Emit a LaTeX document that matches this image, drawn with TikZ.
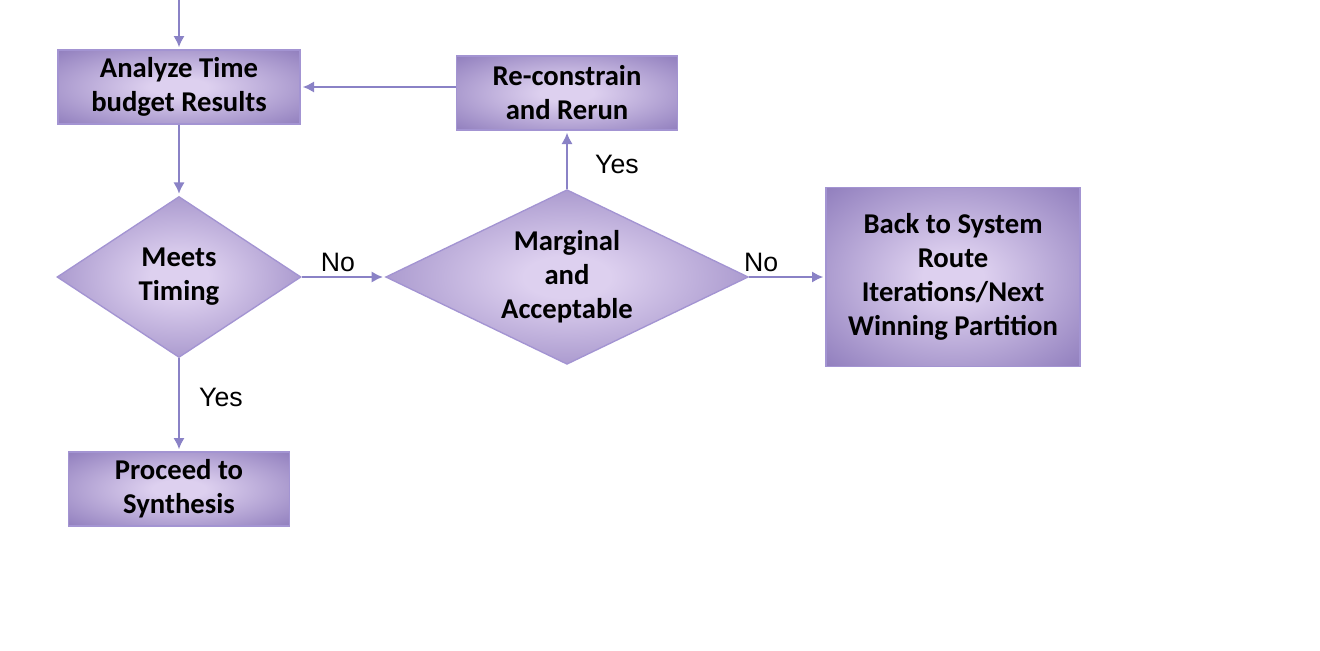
\documentclass[tikz,border=0pt]{standalone}
\usepackage{fontspec}
\setmainfont{Liberation Sans}
\newfontfamily\boxfont{Carlito}
\usepackage{tikz}
\usetikzlibrary{arrows.meta,shapes.geometric}

\definecolor{glowin}{HTML}{DDD0EF}
\definecolor{glowout}{HTML}{8572B6}
\definecolor{rimline}{HTML}{A394D2}
\definecolor{flowline}{HTML}{8A82C6}
\pgfdeclareradialshading{softglow}{\pgfpointorigin}{color(0bp)=(glowin); color(6bp)=(glowin); color(40bp)=(glowout); color(72bp)=(glowout)}

\begin{document}
\begin{tikzpicture}[>={Latex[length=8.5pt,width=8.5pt]},shorten >=1.5pt,x=0.75pt,y=-0.75pt,
  proc node/.style={rectangle,shading=softglow,draw=rimline,line width=1pt,
    minimum width=165.75pt,minimum height=55.5pt,align=center,
    font=\boxfont\bfseries\fontsize{21.5}{25.5}\selectfont},
  test node/.style={diamond,aspect=2,inner sep=0pt,shading=softglow,draw=rimline,line width=1pt,
    align=center,font=\boxfont\bfseries\fontsize{21.5}{25.5}\selectfont},
  flow/.style={->,draw=flowline,line width=1.6pt}]
  \useasboundingbox (0,0) rectangle (1320,650);
  \coordinate (top) at (179,0);
  \node[proc node,minimum width=181.5pt] (analyze) at (179,87) {Analyze Time\\budget Results};
  \node[test node,minimum width=183pt,minimum height=120.75pt] (meets) [below of=analyze,node distance=142.5pt] {Meets\\Timing};
  \node[proc node] (proceed) [below of=meets,node distance=159pt] {Proceed to\\Synthesis};
  \node[test node,minimum width=272pt,minimum height=131pt] (marginal) [right of=meets,node distance=291pt] {Marginal\\and\\Acceptable};
  \node[proc node] (recon) [above of=marginal,node distance=138pt] {Re-constrain\\and Rerun};
  \node[proc node,minimum width=190.5pt,minimum height=134pt] (back) [right of=marginal,node distance=289.5pt] {Back to System\\Route\\Iterations/Next\\Winning Partition};

  \path[every edge/.style=flow,every node/.style={font=\fontsize{20}{22}\selectfont,text=black}]
    (top) edge (analyze)
    (recon.west |- analyze.east) edge (analyze.east)
    (analyze) edge (meets)
    (meets) edge node[above,xshift=-4pt] {No} (marginal)
    (marginal) edge node[above,pos=0.16] {No} (back)
    (marginal) edge node[right=17pt,pos=0.42] {Yes} (recon)
    (meets) edge node[right=11pt,pos=0.42] {Yes} (proceed);
\end{tikzpicture}
\end{document}
